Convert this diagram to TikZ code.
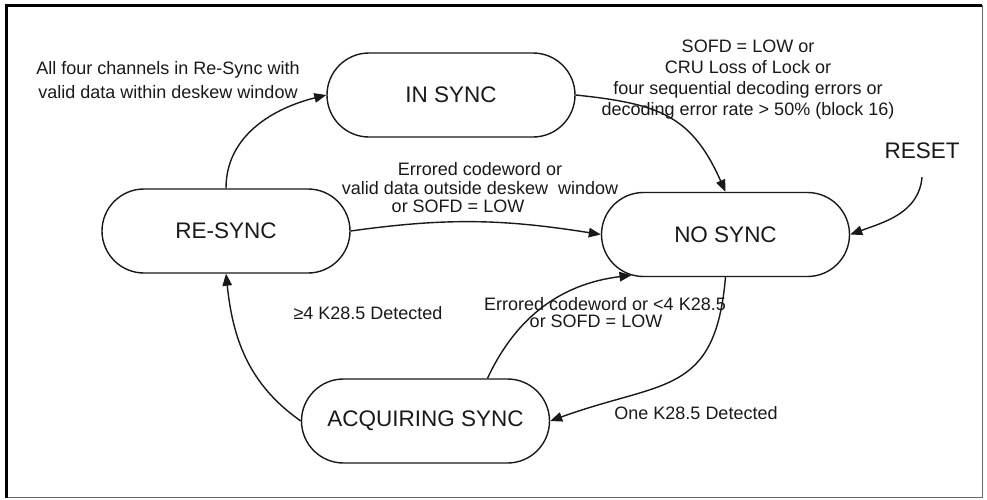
\documentclass[tikz,border=0pt]{standalone}
\usepackage{fontspec}
\setmainfont{Liberation Sans}
\usepackage{tikz}
\usetikzlibrary{arrows.meta,shapes.misc}
\tikzset{
	syncstate/.style={rounded rectangle, draw, line width=1.4pt, minimum width=248pt, minimum height=84pt, inner sep=0pt, font=\fontsize{22.5}{27}\selectfont},
	bigtext/.style={font=\fontsize{22.5}{27}\selectfont, inner xsep=2pt, inner ysep=18pt},
	cond/.style={align=center, inner sep=0pt, font=\fontsize{18}{21}\selectfont},
	trans/.style={line width=1.4pt, -{Triangle[length=12pt,width=9.5pt]}}
}

\begin{document}
\begin{tikzpicture}[x=1pt, y=1pt, color=black!90]
			%%%%% START %%%%%
			\useasboundingbox (0,0) rectangle (987,-499);
			
			\draw[black!60, line width=1pt] (6,-5) rectangle (982,-497.5);
			\draw[black, line width=3pt] (6.5,-497.5) -- (6.5,-5.5) -- (982,-5.5);
			
			\node[syncstate] (insync) at (451,-95) {IN SYNC};
			\node[syncstate] (resync) at (226,-231) {RE-SYNC};
			\node[syncstate] (nosync) at (725.5,-234.5) {NO SYNC};
			\node[syncstate] (acq) at (425.5,-421) {ACQUIRING SYNC};
			\node[bigtext] (reset) at (922,-151) {RESET};
			
			\node[cond, font=\fontsize{18}{23.5}\selectfont] (allfour) at (168,-80) {All four channels in Re-Sync with\\valid data within deskew window};
			\node[cond] (sofd) at (748,-80) {SOFD = LOW or\\CRU Loss of Lock or\\four sequential decoding errors or\\decoding error rate > 50\% (block 16)};
			\node[cond, font=\fontsize{18}{18.5}\selectfont] (errored) at (480,-188) {Errored codeword or\\valid data outside deskew\ \ window\\or SOFD = LOW\hspace*{44pt}};
			\node[cond] (geq) at (368,-313) {≥4 K28.5 Detected};
			\node[cond, font=\fontsize{18}{17}\selectfont] (errlow) at (605,-313) {Errored codeword or <4 K28.5\\or SOFD = LOW\hspace*{18pt}};
			\node[cond] (onek) at (696,-413) {One K28.5 Detected};
			
			\draw[trans] (resync.north) to[out=90, in=194] (insync.west);
			\draw[trans] (insync.east) to[out=-6, in=114, looseness=1.2] (nosync.north);
			\draw[trans] (reset.south) to[out=-95, in=20] (nosync.east);
			\draw[trans] (resync.east) to[out=8, in=171] (nosync.west);
			\draw[trans] ([xshift=62pt]acq.north) to[out=65, in=187] ([xshift=-94pt, yshift=2pt]nosync.south);
			\draw[trans] (nosync.south) to[out=-95, in=20, looseness=1.35] (acq.east);
			\draw[trans] (acq.west) to[out=145, in=-84] (resync.south);
			
			%%%%% END %%%%%
		\end{tikzpicture}
\end{document}
